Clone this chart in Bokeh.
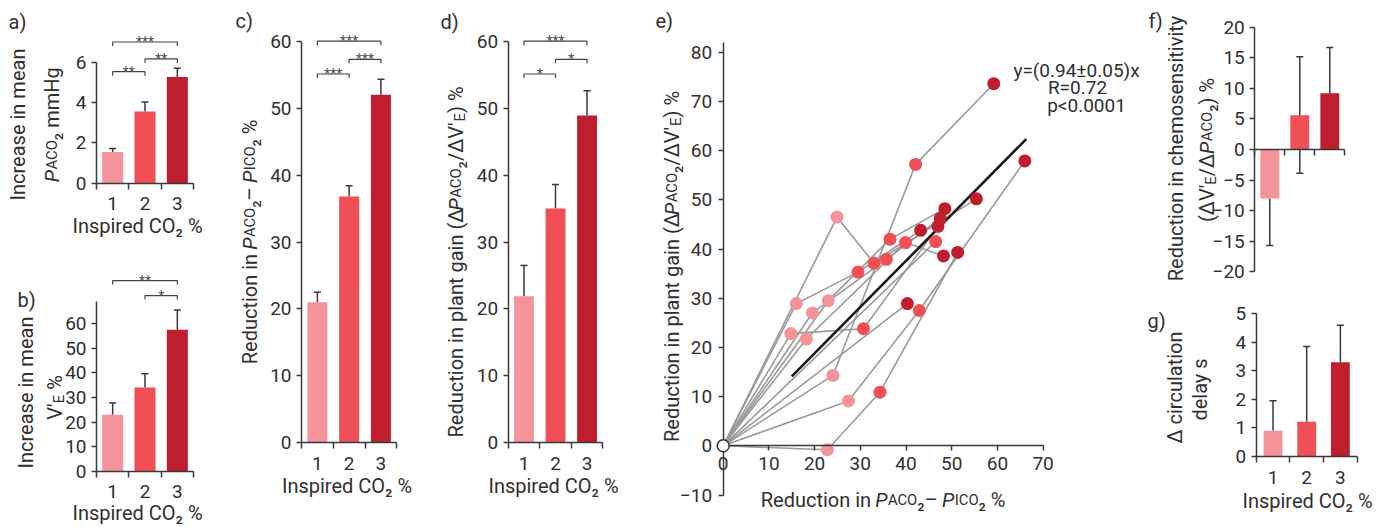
import math
from bokeh.plotting import figure
from bokeh.models import Range1d, FixedTicker, Label, ColumnDataSource
from bokeh.layouts import row, column
from bokeh.embed import file_html
from bokeh.resources import INLINE
from bokeh.core.properties import value

FONT = "Roboto"
TXT = "#303030"
AXC = "#3a3a3a"
STAR = "#505050"
GRAY = "#9a9a9a"
COLORS = ["#f4939a", "#ef4f55", "#be1e2d"]
VERT = math.pi / 2

# ---------------- data ----------------
inspired_co2 = [1, 2, 3]
co2_labels = ["1", "2", "3"]

paco2_increase = [1.55, 3.55, 5.27]
paco2_increase_hi = [1.72, 4.02, 5.70]

ve_increase = [23.0, 34.1, 57.6]
ve_increase_hi = [27.8, 39.7, 65.6]

gradient_reduction = [21.0, 36.8, 52.0]
gradient_reduction_hi = [22.5, 38.4, 54.3]

plant_gain_reduction = [21.9, 35.0, 48.9]
plant_gain_reduction_hi = [26.5, 38.6, 52.6]

chemo_reduction = [-8.0, 5.6, 9.2]
chemo_reduction_lo = [-15.7, -3.9, 9.2]
chemo_reduction_hi = [-8.0, 15.2, 16.7]

delay_change = [0.9, 1.22, 3.3]
delay_change_hi = [1.95, 3.85, 4.6]

# significance brackets: (from group, to group, level, stars)
brackets_a = [(1, 2, 5.53, "**"), (2, 3, 6.16, "**"), (1, 3, 7.0, "***")]
brackets_b = [(2, 3, 71.5, "*"), (1, 3, 77.6, "**")]
brackets_c = [(1, 2, 55.1, "***"), (2, 3, 57.3, "***"), (1, 3, 60.0, "***")]
brackets_d = [(1, 2, 55.1, "*"), (2, 3, 57.3, "*"), (1, 3, 60.0, "***")]

# panel e: per-subject points at 1, 2 and 3 % inspired CO2
x1 = [24.9, 16.0, 23.0, 19.5, 14.8, 18.2, 24.0, 27.4, 22.8]
y1 = [46.5, 28.9, 29.5, 27.0, 22.8, 21.7, 14.3, 9.1, -0.8]
x2 = [33.0, 29.5, 36.5, 35.7, 30.7, 39.9, 42.1, 42.9, 34.3, 46.5]
y2 = [37.1, 35.3, 42.0, 37.9, 23.8, 41.3, 57.2, 27.5, 10.9, 41.5]
x3 = [55.4, 43.2, 48.5, 47.5, 47.0, 48.2, 59.2, 66.0, 51.3, 40.3]
y3 = [50.2, 43.8, 48.2, 46.2, 44.6, 38.6, 73.6, 57.9, 39.3, 28.9]
subject_links = [(0, 0, 0), (1, 1, 1), (2, 2, 2), (3, 3, 3), (4, 4, 4), (5, 5, 5),
                 (6, 6, 6), (7, 7, 7), (8, 8, 8), (None, 9, None), (None, None, 9)]
fit_slope = 0.94
fit_x = [15.0, 66.3]
e_xticks = [0, 10, 20, 30, 40, 50, 60, 70]
e_yticks = [-10, 0, 10, 20, 30, 40, 50, 60, 70, 80]

# rich axis-title pieces: (text, size factor, italic, baseline shift in em)
SC = 0.74
SUB = 0.2
lab_paco2_mmhg = [("P", 1, True, 0), ("ACO", SC, False, 0), ("\u2082 mmHg", 1, False, 0)]
lab_ve = [("V\u2032", 1, False, 0), ("E", SC, False, SUB), (" %", 1, False, 0)]
lab_gradient = [("Reduction in ", 1, False, 0), ("P", 1, True, 0), ("ACO", SC, False, 0),
                ("\u2082\u2013 ", 1, False, 0), ("P", 1, True, 0), ("ICO", SC, False, 0),
                ("\u2082 %", 1, False, 0)]
lab_plant = [("Reduction in plant gain (\u0394", 1, False, 0), ("P", 1, True, 0),
             ("ACO", SC, False, 0), ("\u2082/\u0394V\u2032", 1, False, 0),
             ("E", SC, False, SUB), (") %", 1, False, 0)]
lab_chemo = [("(\u0394V\u2032", 1, False, 0), ("E", SC, False, SUB), ("/\u0394", 1, False, 0),
             ("P", 1, True, 0), ("ACO", SC, False, 0), ("\u2082) %", 1, False, 0)]

# approximate advance widths (em) used only to lay out the pieces above
CW = {" ": .25, "%": .715, "(": .341, ")": .347, "/": .402, "A": .652, "C": .637,
      "E": .569, "I": .272, "O": .674, "P": .632, "R": .615, "V": .636, "a": .531,
      "c": .512, "d": .550, "e": .517, "g": .548, "h": .539, "i": .237, "l": .237,
      "m": .856, "n": .540, "o": .558, "p": .548, "r": .331, "s": .504, "t": .319,
      "u": .539, "H": .713, "\u0394": .70, "\u2013": .57, "\u2032": .17, "\u2082": .41}
WFAC = 1.01


# ---------------- helpers ----------------
def make_fig(W, H, xpx, xval, xs, ypx, yval, ys):
    """Figure whose frame is the whole canvas; value xval sits at local pixel xpx."""
    xr = (xval - xpx / xs, xval + (W - xpx) / xs)
    yr = (yval - (H - ypx) / ys, yval + ypx / ys)
    p = figure(width=W, height=H, x_range=Range1d(*xr), y_range=Range1d(*yr),
               output_backend="svg", toolbar_location=None, min_border=0,
               min_border_left=0, min_border_right=0, min_border_top=0,
               min_border_bottom=0)
    p.title.visible = False
    p.grid.visible = False
    p.outline_line_color = None
    p.background_fill_color = "white"
    p.border_fill_color = "white"

    def m(lx, ly):
        return xval + (lx - xpx) / xs, yval + (ypx - ly) / ys
    return p, m, ys


def put(p, m, lx, ly, text, size=20, angle=0.0, align="center", baseline="middle",
        color=TXT, style="normal"):
    x, y = m(lx, ly)
    p.add_layout(Label(x=x, y=y, text=text, angle=angle, text_align=align,
                       text_baseline=baseline, text_font=FONT,
                       text_font_size=f"{size:.1f}px", text_color=color,
                       text_font_style=style))


def tw(s, fs):
    return sum(CW.get(ch, 0.55) for ch in s) * fs * WFAC


def rich(p, m, cx, cy, pieces, size=20, vertical=False):
    total = sum(tw(t, size * sc) for t, sc, it, sh in pieces)
    pos = -total / 2
    for t, sc, it, sh in pieces:
        fs = size * sc
        lead = tw(t[:len(t) - len(t.lstrip(" "))], fs)
        at = pos + lead
        if vertical:
            lx, ly, ang = cx + 0.34 * size + sh * size, cy - at, VERT
        else:
            lx, ly, ang = cx + at, cy + 0.34 * size + sh * size, 0.0
        put(p, m, lx, ly, t.strip(" "), fs, angle=ang, align="left",
            baseline="alphabetic", style="italic" if it else "normal")
        pos += tw(t, fs)


def style_axis(ax, size="19px"):
    ax.axis_line_color = AXC
    ax.axis_line_width = 1.5
    ax.major_tick_line_color = AXC
    ax.major_tick_line_width = 1.5
    ax.major_tick_out = 5
    ax.major_tick_in = 0
    ax.minor_tick_line_color = None
    ax.major_label_text_font = FONT
    ax.major_label_text_font_size = size
    ax.major_label_text_color = TXT
    ax.major_label_standoff = 5


def bar_panel(W, H, xpx, xs, ypx, ys, means, lo, hi, yticks, ybounds, brackets,
              bw=0.63, xlabels=True):
    p, m, sy = make_fig(W, H, xpx, 0.5, xs, ypx, 0.0, ys)
    src = ColumnDataSource(dict(x=inspired_co2, top=means, lo=lo, hi=hi, color=COLORS))
    p.segment(x0="x", y0="lo", x1="x", y1="hi", source=src, line_color=AXC, line_width=1.5)
    p.vbar(x="x", top="top", bottom=0, width=bw, fill_color="color",
           line_color=None, source=src)
    cx, cy = [], []
    for x, mn, l, h in zip(inspired_co2, means, lo, hi):
        if h != mn:
            cx.append(x); cy.append(h)
        if l != mn:
            cx.append(x); cy.append(l)
    p.scatter(cx, cy, marker="dash", size=7, line_color=AXC, line_width=1.5)

    yax = p.yaxis[0]
    style_axis(yax)
    yax.ticker = FixedTicker(ticks=yticks)
    yax.bounds = ybounds
    yax.fixed_location = 0.5

    xax = p.xaxis[0]
    style_axis(xax)
    xax.ticker = FixedTicker(ticks=inspired_co2 if xlabels else [],
                             minor_ticks=[0.5, 1.5, 2.5, 3.5])
    xax.major_label_overrides = {i: s for i, s in zip(inspired_co2, co2_labels)}
    xax.major_tick_line_color = None
    xax.major_tick_out = 0
    xax.minor_tick_line_color = AXC
    xax.minor_tick_line_width = 1.5
    xax.minor_tick_out = 6
    xax.minor_tick_in = 0
    xax.major_label_standoff = 8
    xax.bounds = (0.5, 3.5)
    xax.fixed_location = 0

    if brackets:
        leg = 4.0 / sy
        bx, by, tx, ty, tt = [], [], [], [], []
        for a, b, lvl, s in brackets:
            bx.append([a, a, b, b])
            by.append([lvl - leg, lvl, lvl, lvl - leg])
            tx.append((a + b) / 2)
            ty.append(lvl)
            tt.append(s)
        p.multi_line(bx, by, line_color="#444444", line_width=1.2)
        p.text(x=tx, y=ty, text=tt, text_align="center", text_baseline="alphabetic",
               text_font=value(FONT), text_font_size="14px", text_color=STAR)
    return p, m


# ---------------- panel a ----------------
pa, ma = bar_panel(208, 240, 96, 32.33, 182.7, 20.17, paco2_increase, paco2_increase,
                   paco2_increase_hi, [0, 2, 4, 6], (0, 6), brackets_a, bw=0.65)
put(pa, ma, 8, 21, "a)", align="left")
put(pa, ma, 17, 124, "Increase in mean", angle=VERT)
rich(pa, ma, 45, 124, lab_paco2_mmhg, vertical=True)
put(pa, ma, 137, 225, "Inspired CO\u2082 %")

# ---------------- panel b ----------------
pb, mb = bar_panel(208, 287, 96, 32.33, 230.7, 2.456, ve_increase, ve_increase,
                   ve_increase_hi, [0, 10, 20, 30, 40, 50, 60], (0, 69), brackets_b,
                   bw=0.65)
put(pb, mb, 17, 59, "b)", align="left")
put(pb, mb, 25, 152, "Increase in mean", angle=VERT)
rich(pb, mb, 48, 157, lab_ve, vertical=True)
put(pb, mb, 137, 272, "Inspired CO\u2082 %")

# ---------------- panel c ----------------
pc, mc = bar_panel(212, 527, 93, 31.77, 442.3, 6.693, gradient_reduction,
                   gradient_reduction, gradient_reduction_hi,
                   [0, 10, 20, 30, 40, 50, 60], (0, 60), brackets_c)
put(pc, mc, 27, 20, "c)", align="left")
rich(pc, mc, 34.5, 241, lab_gradient, vertical=True)
put(pc, mc, 138.5, 485, "Inspired CO\u2082 %")

# ---------------- panel d ----------------
pd_, md = bar_panel(200, 527, 87.7, 31.53, 442.3, 6.693, plant_gain_reduction,
                    plant_gain_reduction, plant_gain_reduction_hi,
                    [0, 10, 20, 30, 40, 50, 60], (0, 60), brackets_d)
put(pd_, md, 20, 21.5, "d)", align="left")
rich(pd_, md, 28.5, 261.5, lab_plant, vertical=True)
put(pd_, md, 133, 485, "Inspired CO\u2082 %")

# ---------------- panel e ----------------
pe, me, _ = make_fig(520, 527, 102.7, 0.0, 4.57, 445.3, 0.0, 4.92)
xs, ys = [], []
for i1, i2, i3 in subject_links:
    px, py = [0.0], [0.0]
    if i1 is not None:
        px.append(x1[i1]); py.append(y1[i1])
    if i2 is not None:
        px.append(x2[i2]); py.append(y2[i2])
    if i3 is not None:
        px.append(x3[i3]); py.append(y3[i3])
    xs.append(px); ys.append(py)
pe.multi_line(xs, ys, line_color=GRAY, line_width=1.6)
pe.line(fit_x, [fit_slope * v for v in fit_x], line_color="#1a1a1a", line_width=2.6)
pe.scatter(x1, y1, size=13, fill_color=COLORS[0], line_color=None)
pe.scatter(x2, y2, size=13, fill_color=COLORS[1], line_color=None)
pe.scatter(x3, y3, size=13, fill_color=COLORS[2], line_color=None)
pe.scatter([0], [0], size=12, fill_color="white", line_color="#333333", line_width=1.5,
           level="overlay")
for ax in pe.axis:
    style_axis(ax)
    ax.fixed_location = 0
pe.xaxis[0].ticker = FixedTicker(ticks=e_xticks)
pe.xaxis[0].bounds = (0, 70)
pe.xaxis[0].major_label_standoff = 6
pe.yaxis[0].ticker = FixedTicker(ticks=e_yticks)
pe.yaxis[0].bounds = (-10, 82)
pe.yaxis[0].major_label_standoff = 6
put(pe, me, 35, 20.5, "e)", align="left")
rich(pe, me, 45, 266, lab_plant, vertical=True)
rich(pe, me, 263, 493, lab_gradient)
put(pe, me, 456, 70, "y=(0.94\u00b10.05)x", 19)
put(pe, me, 457, 87, "R=0.72", 19)
put(pe, me, 466, 105, "p<0.0001", 19)

# ---------------- panel f ----------------
pf, mf = bar_panel(254, 298, 114.3, 30.0, 149.0, 6.11, chemo_reduction,
                   chemo_reduction_lo, chemo_reduction_hi,
                   [-20, -15, -10, -5, 0, 5, 10, 15, 20], (-20, 20), None,
                   xlabels=False)
put(pf, mf, 8, 20, "f)", align="left")
put(pf, mf, 35, 148, "Reduction in chemosensitivity", angle=VERT)
rich(pf, mf, 60, 149, lab_chemo, vertical=True)

# ---------------- panel g ----------------
pg, mg = bar_panel(254, 229, 115.7, 33.67, 158.0, 28.54, delay_change, delay_change,
                   delay_change_hi, [0, 1, 2, 3, 4, 5], (0, 5), None, bw=0.56)
put(pg, mg, 7, 22, "g)", align="left")
put(pg, mg, 34.5, 89, "\u0394 circulation", angle=VERT)
put(pg, mg, 59, 91, "delay s", angle=VERT)
put(pg, mg, 167, 202, "Inspired CO\u2082 %")

layout = row(column(pa, pb), column(pc), column(pd_), column(pe), column(pf, pg))
open("out.html", "w").write(file_html(layout, INLINE))
